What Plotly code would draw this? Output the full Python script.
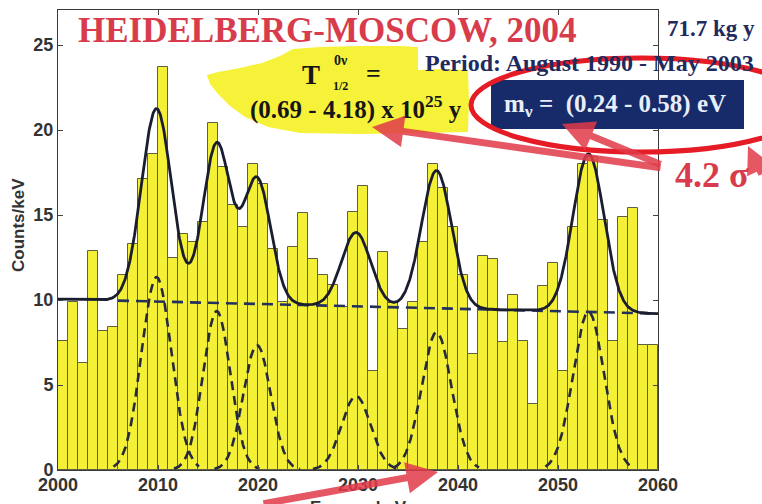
import numpy as np
import plotly.graph_objects as go

# ---------------- data ----------------
bin_left_edges = list(range(2000, 2060))          # 1 keV bins
counts_per_kev = [7.6, 9.9, 6.3, 12.9, 8.2, 8.4, 11.5, 13.3, 17.1, 18.6,
                  23.7, 12.5, 13.9, 13.4, 14.6, 20.4, 17.8, 15.6, 14.3, 18.0,
                  16.8, 13.0, 9.9, 13.1, 15.1, 12.4, 11.5, 10.9, 9.6, 15.2,
                  16.7, 5.8, 12.8, 9.8, 8.3, 9.9, 13.4, 18.0, 16.6, 14.3,
                  11.5, 6.8, 12.6, 12.4, 7.55, 10.3, 7.6, 3.9, 10.8, 12.2,
                  5.8, 14.3, 18.0, 18.4, 14.7, 7.6, 14.9, 15.4, 7.35, 7.35]

# fitted lines (Gaussian peaks)
peak_centres = [2009.85, 2015.87, 2019.9, 2029.8, 2037.85, 2053.05]
peak_amplitudes = [11.35, 9.35, 7.35, 4.35, 8.1, 9.3]
peak_sigmas = [1.5, 1.37, 1.37, 1.45, 1.5, 1.55]
background_energy = [2000, 2060]
background_level = [10.05, 9.2]
background_dashed_start = 2006

x_ticks = [2000, 2010, 2020, 2030, 2040, 2050, 2060]
y_ticks = [0, 5, 10, 15, 20, 25]

# ---------------- geometry helpers (pixel -> paper) ----------------
W, H = 762, 504
L, R, T, B = 58, 658, 10, 470


def px(x):
    return (x - L) / (R - L)


def py(y):
    return (B - y) / (B - T)


def path_from(points):
    s = "M " + " L ".join(f"{px(x):.4f},{py(y):.4f}" for x, y in points) + " Z"
    return s


# ---------------- model curves ----------------
xs = np.linspace(2000, 2060, 1201)
bg = np.interp(xs, background_energy, background_level)
peaks = [a * np.exp(-(xs - c) ** 2 / (2 * s ** 2))
         for c, a, s in zip(peak_centres, peak_amplitudes, peak_sigmas)]
total = bg + np.sum(peaks, axis=0)

fig = go.Figure()

fig.add_trace(go.Bar(
    x=[e + 0.5 for e in bin_left_edges], y=counts_per_kev, width=1.0,
    marker=dict(color="#f4f036", line=dict(color="#5e5e46", width=1)),
    hoverinfo="skip", showlegend=False))

# dashed single peaks
for c, a, s in zip(peak_centres, peak_amplitudes, peak_sigmas):
    m = (xs >= c - 4.3) & (xs <= c + 4.3)
    fig.add_trace(go.Scatter(
        x=xs[m], y=(a * np.exp(-(xs - c) ** 2 / (2 * s ** 2)))[m], mode="lines",
        line=dict(color="#262a40", width=2.6, dash="9px,6px"),
        hoverinfo="skip", showlegend=False))

# dashed background
mb = xs >= background_dashed_start
fig.add_trace(go.Scatter(
    x=xs[mb], y=bg[mb], mode="lines",
    line=dict(color="#22305e", width=2.6, dash="11px,7px"),
    hoverinfo="skip", showlegend=False))

# total fit
fig.add_trace(go.Scatter(
    x=xs, y=total, mode="lines",
    line=dict(color="#1a1d30", width=2.8),
    hoverinfo="skip", showlegend=False))

SERIF = "Liberation Serif, Times New Roman, serif"
SANS = "Liberation Sans, Arial, sans-serif"
RED = "#d83c4c"
NAVY = "#1f2b5e"

shapes = []
# yellow cloud
blob = [(207, 75), (218, 72), (240, 68), (262, 63), (280, 56), (293, 49),
        (320, 47), (360, 46), (400, 46), (418, 47), (418, 70), (440, 69),
        (468, 70), (469, 100), (468, 132), (420, 133), (360, 134), (300, 133),
        (268, 127), (245, 117), (230, 106), (218, 94), (210, 84)]
shapes.append(dict(type="path", xref="paper", yref="paper", path=path_from(blob),
                   fillcolor="#f6f23a", line=dict(width=0), layer="above"))
# navy box
shapes.append(dict(type="rect", xref="paper", yref="paper",
                   x0=px(491), x1=px(744), y0=py(129), y1=py(80),
                   fillcolor="#172b6b", line=dict(width=0), layer="above"))
# red ellipse
shapes.append(dict(type="circle", xref="paper", yref="paper",
                   x0=px(471), x1=px(811), y0=py(152), y1=py(58),
                   line=dict(color="#e51c26", width=5), layer="above"))

ann = []


def text(t, x, y, size, color, family=SERIF, xanchor="center", yanchor="middle", **kw):
    ann.append(dict(text=t, x=px(x), y=py(y), xref="paper", yref="paper",
                    xanchor=xanchor, yanchor=yanchor, showarrow=False,
                    font=dict(family=family, size=size, color=color, weight="bold"), **kw))


text("HEIDELBERG-MOSCOW, 2004", 327, 31, 35, RED)
text("71.7 kg y", 711, 29, 23, NAVY)
text("Period: August 1990 - May 2003", 423, 63, 24, NAVY, xanchor="left")
text("T", 311, 75, 27, "#161616")
text("0ν", 341, 60, 14, "#161616")
text("1/2", 340, 86, 12, "#161616")
text("=", 373, 73, 26, "#161616")
text("(0.69 - 4.18) x 10<sup>25</sup> y", 248, 107, 25, "#161616", xanchor="left")
text("m<sub>ν</sub> =  (0.24 - 0.58) eV", 615, 105, 25, "#e8eef8")
text("4.2 σ", 712, 175, 36, RED)
text("Counts/keV", 19, 225, 17, "#333333", family=SANS, textangle=-90)
text("Energy, keV", 358, 507, 17, "#333333", family=SANS)

ARROW = "rgba(226,58,74,0.85)"


def arrow(tail, head, width=7, size=0.9):
    ann.append(dict(text="", x=px(head[0]), y=py(head[1]), xref="paper", yref="paper",
                    ax=tail[0] - head[0], ay=tail[1] - head[1],
                    showarrow=True, arrowhead=2, arrowsize=size, arrowwidth=width,
                    arrowcolor=ARROW))


arrow((662, 168), (372, 127))
arrow((662, 165), (562, 124))
arrow((262, 508), (438, 472))
arrow((800, 176), (748, 146), width=6)

fig.update_layout(
    width=W, height=H,
    margin=dict(l=L, r=W - R, t=T, b=H - B, autoexpand=False),
    paper_bgcolor="white", plot_bgcolor="white",
    bargap=0, showlegend=False,
    shapes=shapes, annotations=ann,
    xaxis=dict(range=[2000, 2060], tickvals=x_ticks, ticks="inside", ticklen=5,
               showline=True, linecolor="#3a3a3a", linewidth=1, mirror="ticks",
               showgrid=False, zeroline=False, ticklabelstandoff=-2, automargin=False,
               tickfont=dict(family=SANS, size=18, color="#333333", weight="bold")),
    yaxis=dict(range=[0, (B - T) / 17.0], tickvals=y_ticks, ticks="inside", ticklen=5,
               showline=True, linecolor="#3a3a3a", linewidth=1, mirror="ticks",
               showgrid=False, zeroline=False, automargin=False,
               tickfont=dict(family=SANS, size=18, color="#333333", weight="bold")),
)

fig.write_html("out.html", config={"displayModeBar": False},
               post_script="document.body.style.margin='0px';document.body.style.overflow='hidden';")
